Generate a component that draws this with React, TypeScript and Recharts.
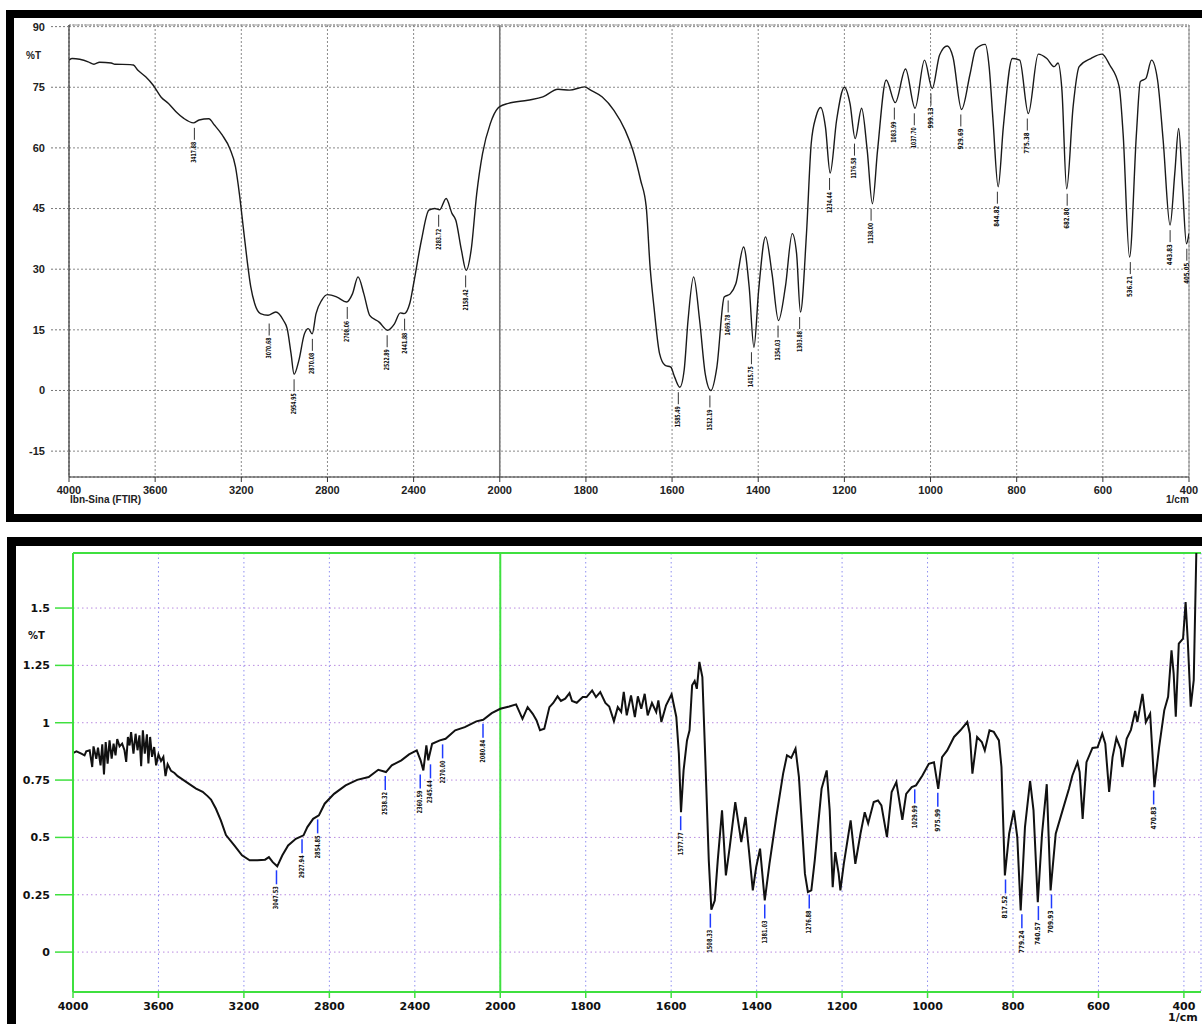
import React from 'react';
import {
  ComposedChart,
  Line,
  Scatter,
  XAxis,
  YAxis,
  CartesianGrid,
  ReferenceLine
} from 'recharts';

// Shimadzu style wavenumber axis: the range above 2000 1/cm is compressed 2:1
const toDisp = (wn: number) => (wn > 2000 ? 2000 + (wn - 2000) / 2 : wn);
const fromDisp = (d: number) => Math.round(d > 2000 ? 2000 + (d - 2000) * 2 : d);

const xTickLabels = [4000, 3600, 3200, 2800, 2400, 2000, 1800, 1600, 1400, 1200, 1000, 800, 600, 400];
const topYTicks = [-15, 0, 15, 30, 45, 60, 75, 90];
const botYTicks = [0, 0.25, 0.5, 0.75, 1, 1.25, 1.5];

// ---- upper spectrum (Ibn-Sina FTIR) ----
const topWn = [
  4000, 3985, 3911, 3884, 3858, 3804, 3787, 3716, 3701, 3680, 3644, 3609, 3573, 3538, 3502, 3467,
  3422, 3396, 3351, 3324, 3289, 3253, 3227, 3209, 3191, 3173, 3156, 3138, 3111, 3076, 3040, 3004,
  2987, 2969, 2955, 2933, 2907, 2889, 2871, 2853, 2827, 2800, 2756, 2711, 2684, 2658, 2631, 2604,
  2560, 2521, 2489, 2462, 2444, 2418, 2400, 2364, 2329, 2302, 2279, 2249, 2222, 2204, 2178, 2156,
  2133, 2107, 2080, 2044, 2009, 2000, 1980, 1935, 1900, 1865, 1838, 1803, 1789, 1762, 1735, 1709,
  1691, 1673, 1660, 1651, 1642, 1629, 1616, 1603, 1594, 1582, 1572, 1563, 1550, 1536, 1523, 1510,
  1496, 1479, 1465, 1452, 1434, 1421, 1410, 1399, 1383, 1368, 1353, 1337, 1321, 1311, 1302, 1288,
  1277, 1266, 1255, 1244, 1233, 1218, 1200, 1187, 1175, 1160, 1147, 1135, 1123, 1103, 1082, 1058,
  1036, 1014, 996, 979, 961, 948, 928, 908, 895, 873, 864, 855, 843, 831, 810, 793,
  773, 750, 730, 713, 704, 695, 684, 669, 655, 628, 602, 584, 562, 553, 538, 522,
  513, 500, 487, 473, 460, 444, 433, 424, 415, 406, 400
];
const topT = [
  81.7, 82.1, 81.3, 80.7, 81.2, 81.0, 80.7, 80.6, 80.5, 79.2, 77.6, 75.5, 72.6, 71.0, 68.9, 67.3,
  66.2, 66.9, 67.2, 65.6, 63.2, 59.8, 55.3, 48.7, 40.4, 32.2, 25.6, 21.5, 19.0, 18.6, 19.4, 17.3,
  15.3, 9.1, 4.0, 7.4, 14.0, 15.3, 14.0, 19.0, 22.3, 23.7, 23.1, 21.9, 23.9, 28.1, 23.9, 18.6,
  16.9, 14.9, 16.5, 19.2, 19.0, 21.5, 26.4, 37.1, 44.6, 45.0, 44.7, 47.5, 43.8, 42.1, 34.7, 29.7,
  34.7, 48.7, 58.6, 66.0, 69.8, 70.2, 71.0, 71.8, 72.6, 74.5, 74.3, 75.1, 74.3, 72.6, 69.3, 64.4,
  59.4, 52.0, 45.4, 30.5, 20.6, 9.1, 6.2, 5.8, 3.3, 0.8, 5.0, 17.3, 28.1, 17.3, 4.1, 0.0,
  5.8, 23.1, 23.9, 26.4, 35.5, 25.6, 10.7, 24.8, 38.0, 28.9, 17.3, 25.6, 38.8, 33.9, 19.4, 38.8,
  61.1, 67.7, 70.0, 65.2, 53.8, 66.9, 75.0, 71.0, 62.3, 69.8, 59.4, 46.2, 59.4, 76.8, 71.2, 79.5,
  69.8, 81.7, 74.7, 83.0, 85.2, 82.5, 69.5, 78.4, 84.4, 85.6, 80.1, 66.9, 50.4, 65.2, 82.1, 81.7,
  68.5, 83.2, 82.1, 80.1, 81.0, 74.3, 49.9, 70.2, 80.1, 82.1, 83.2, 80.5, 75.1, 63.6, 33.0, 63.6,
  76.4, 77.2, 81.7, 76.8, 61.9, 40.9, 53.7, 64.8, 50.4, 36.3, 38.8
];
const topPeakWn = [
  3417.88, 3070.68, 2954.95, 2870.08, 2708.06, 2522.89, 2441.88, 2283.72, 2158.42, 1585.49, 1512.19,
  1469.78, 1415.75, 1354.03, 1303.88, 1234.44, 1176.58, 1138.0, 1083.99, 1037.7, 999.13, 929.69,
  844.82, 775.38, 682.8, 536.21, 443.83, 405.05
];
const topPeakT = [
  66.2, 17.8, 4.0, 14.0, 21.9, 14.9, 19.0, 44.7, 29.7, 0.8, 0.0,
  23.5, 10.7, 17.3, 19.4, 53.8, 62.3, 46.2, 71.2, 69.8, 74.7, 69.5,
  50.4, 68.5, 49.9, 33.0, 40.9, 36.3
];

// ---- lower spectrum ----
const botWn = [
  4000, 3984, 3961, 3946, 3938, 3922, 3910, 3904, 3891, 3883, 3871, 3863, 3855, 3847, 3838, 3829,
  3819, 3810, 3801, 3793, 3782, 3770, 3759, 3751, 3743, 3735, 3728, 3717, 3707, 3698, 3689, 3681,
  3673, 3664, 3654, 3647, 3639, 3630, 3620, 3611, 3600, 3588, 3577, 3567, 3557, 3541, 3525, 3510,
  3486, 3455, 3424, 3393, 3370, 3354, 3331, 3308, 3284, 3245, 3209, 3173, 3137, 3101, 3083, 3065,
  3044, 3020, 2993, 2957, 2921, 2903, 2876, 2849, 2822, 2778, 2724, 2670, 2616, 2571, 2535, 2508,
  2463, 2427, 2391, 2373, 2360, 2346, 2337, 2319, 2283, 2256, 2211, 2166, 2112, 2080, 2040, 2000,
  1979, 1963, 1948, 1936, 1924, 1915, 1907, 1897, 1885, 1876, 1866, 1858, 1848, 1838, 1832, 1821,
  1807, 1798, 1785, 1776, 1766, 1754, 1745, 1734, 1725, 1717, 1711, 1704, 1694, 1685, 1678, 1670,
  1662, 1655, 1645, 1635, 1630, 1623, 1612, 1599, 1588, 1582, 1577, 1571, 1563, 1557, 1551, 1545,
  1540, 1534, 1527, 1520, 1512, 1506, 1498, 1491, 1481, 1472, 1463, 1450, 1436, 1426, 1418, 1409,
  1401, 1392, 1381, 1370, 1354, 1338, 1329, 1319, 1309, 1301, 1287, 1280, 1272, 1264, 1248, 1236,
  1229, 1222, 1216, 1208, 1204, 1196, 1180, 1169, 1157, 1147, 1139, 1126, 1116, 1108, 1095, 1084,
  1073, 1059, 1050, 1037, 1027, 1012, 997, 985, 975, 966, 954, 938, 923, 907, 901, 895,
  884, 873, 866, 855, 845, 833, 827, 819, 809, 798, 790, 782, 772, 760, 752, 742,
  732, 721, 712, 700, 684, 669, 661, 649, 644, 637, 628, 614, 602, 591, 584, 575,
  567, 558, 548, 544, 534, 524, 514, 509, 497, 489, 479, 469, 458, 446, 437, 429,
  424, 419, 412, 402, 396, 391, 384, 377, 371, 365
];
const botT = [
  0.868, 0.875, 0.865, 0.858, 0.875, 0.88, 0.807, 0.897, 0.843, 0.891, 0.814, 0.906, 0.775, 0.916, 0.822, 0.923,
  0.843, 0.909, 0.858, 0.929, 0.897, 0.909, 0.88, 0.829, 0.938, 0.901, 0.959, 0.865, 0.952, 0.88, 0.945, 0.81,
  0.967, 0.865, 0.949, 0.822, 0.938, 0.851, 0.894, 0.814, 0.862, 0.833, 0.851, 0.767, 0.819, 0.79, 0.781, 0.767,
  0.752, 0.732, 0.713, 0.699, 0.68, 0.665, 0.625, 0.574, 0.51, 0.465, 0.422, 0.4, 0.4, 0.403, 0.414, 0.392,
  0.374, 0.422, 0.465, 0.494, 0.509, 0.545, 0.581, 0.596, 0.647, 0.69, 0.727, 0.751, 0.763, 0.795, 0.785, 0.814,
  0.836, 0.862, 0.879, 0.836, 0.792, 0.901, 0.836, 0.908, 0.923, 0.93, 0.967, 0.981, 1.006, 1.013, 1.042, 1.061,
  1.071, 1.08, 1.017, 1.068, 1.039, 1.01, 0.967, 0.974, 1.068, 1.086, 1.115, 1.095, 1.105, 1.129, 1.095, 1.087,
  1.112, 1.112, 1.141, 1.112, 1.134, 1.086, 1.071, 1.007, 1.068, 1.047, 1.134, 1.032, 1.119, 1.025, 1.115, 1.061,
  1.126, 1.032, 1.086, 1.047, 1.097, 1.003, 1.076, 1.124, 1.025, 0.865, 0.61, 0.792, 0.923, 0.967, 1.163, 1.182,
  1.148, 1.265, 1.199, 0.836, 0.4, 0.185, 0.225, 0.4, 0.618, 0.334, 0.458, 0.654, 0.48, 0.589, 0.443, 0.269,
  0.371, 0.451, 0.225, 0.385, 0.589, 0.778, 0.858, 0.847, 0.887, 0.763, 0.342, 0.262, 0.269, 0.4, 0.712, 0.792,
  0.618, 0.283, 0.436, 0.342, 0.269, 0.385, 0.574, 0.385, 0.516, 0.61, 0.561, 0.654, 0.661, 0.64, 0.501, 0.698,
  0.741, 0.577, 0.69, 0.719, 0.727, 0.77, 0.821, 0.828, 0.712, 0.85, 0.879, 0.938, 0.967, 1.003, 0.952, 0.778,
  0.938, 0.916, 0.879, 0.967, 0.96, 0.923, 0.807, 0.334, 0.516, 0.618, 0.501, 0.182, 0.545, 0.746, 0.618, 0.218,
  0.516, 0.732, 0.269, 0.516, 0.618, 0.712, 0.77, 0.828, 0.785, 0.581, 0.828, 0.89, 0.893, 0.952, 0.909, 0.698,
  0.85, 0.933, 0.885, 0.807, 0.93, 0.969, 1.051, 1.003, 1.126, 1.003, 1.039, 0.719, 0.894, 1.054, 1.113, 1.316,
  1.214, 1.026, 1.345, 1.367, 1.526, 1.359, 1.07, 1.186, 1.736, 2.0
];
const botPeakWn = [
  3047.53, 2927.94, 2854.85, 2538.32, 2360.59, 2345.44, 2270.0, 2080.84, 1577.77, 1508.33, 1381.03,
  1276.88, 1029.99, 975.99, 817.52, 779.24, 740.57, 709.93, 470.83
];
const botPeakT = [
  0.374, 0.509, 0.596, 0.785, 0.792, 0.836, 0.923, 1.013, 0.61, 0.185, 0.225,
  0.269, 0.727, 0.712, 0.334, 0.182, 0.218, 0.269, 0.722
];

const topData = topWn.map((wn, i) => ({ x: toDisp(wn), t: topT[i] }));
const topPeaks = topPeakWn.map((wn, i) => ({ x: toDisp(wn), t: topPeakT[i], label: wn.toFixed(2) }));
const botData = botWn.map((wn, i) => ({ x: toDisp(wn), t: botT[i] }));
const botPeaks = botPeakWn.map((wn, i) => ({ x: toDisp(wn), t: botPeakT[i], label: wn.toFixed(2) }));

const majorX = xTickLabels.map(toDisp);
const minorX: number[] = [];
for (let d = 400; d <= 3000; d += 40) minorX.push(d);
const topMinorY: number[] = [];
for (let v = -21; v <= 90; v += 3) topMinorY.push(v);
const botMinorY: number[] = [];
for (let k = -3; k <= 34; k++) botMinorY.push(Math.round(k * 5) / 100);

const narrowFont = '"Liberation Sans Narrow", "DejaVu Sans Condensed", "Liberation Sans", sans-serif';

// the two close CO2 labels are pushed apart on the print
const labelNudge: Record<string, number> = { '2360.59': -3, '2345.44': 4 };

const makePeakShape = (lineColor: string, lineWidth: number, gap: number, len: number, textLen: number) =>
  (props: any) => {
    const { cx, cy, payload } = props;
    if (cx == null || cy == null) return <g />;
    const x = cx + (labelNudge[payload.label] || 0);
    const y0 = cy + gap;
    const y1 = y0 + len;
    const ty = y1 + 2;
    return (
      <g>
        <line x1={x} y1={y0} x2={x} y2={y1} stroke={lineColor} strokeWidth={lineWidth} />
        <text
          x={x}
          y={ty}
          transform={`rotate(-90 ${x} ${ty})`}
          textAnchor="end"
          dominantBaseline="central"
          fontSize={7}
          fontWeight={700}
          fontFamily={narrowFont}
          fill="#111"
          textLength={textLen}
          lengthAdjust="spacingAndGlyphs"
        >
          {payload.label}
        </text>
      </g>
    );
  };

const TopPeak = makePeakShape('#333', 1, 5, 12, 21);
const BotPeak = makePeakShape('#1f3bff', 1.5, 4, 14, 23);

const abs = (left: number, top: number): React.CSSProperties => ({ position: 'absolute', left, top });

export default function App() {
  const topTick = { fontSize: 11, fontWeight: 700, fill: '#222', fontFamily: '"Liberation Sans", Arial, sans-serif' };
  const botTick = { fontSize: 11, fontWeight: 900, fill: '#111', fontFamily: '"DejaVu Sans", sans-serif' };
  const green = '#3fe03f';

  return (
    <div style={{ position: 'absolute', left: 0, top: 0, width: 1202, height: 1024, overflow: 'hidden', background: '#fff' }}>
      {/* black frames of the two scanned sheets */}
      <div style={{ ...abs(6, 10), width: 1220, height: 512, border: '8px solid #000', boxSizing: 'border-box' }} />
      <div style={{ ...abs(7, 537), width: 1220, height: 600, border: '9px solid #000', boxSizing: 'border-box' }} />

      {/* upper spectrum */}
      <div style={abs(0, 0)}>
        <ComposedChart width={1202} height={522} data={topData} margin={{ top: 25, right: 13, bottom: 15, left: 9 }}>
          <CartesianGrid stroke="#8a8a8a" strokeDasharray="2 2" />
          <XAxis
            dataKey="x"
            type="number"
            domain={[400, 3000]}
            reversed
            allowDataOverflow
            ticks={majorX}
            interval={0}
            tickFormatter={(d: number) => String(fromDisp(d))}
            height={30}
            tickSize={5}
            tickMargin={4}
            tick={topTick}
            stroke="#333"
          />
          <XAxis
            xAxisId="minor"
            type="number"
            domain={[400, 3000]}
            reversed
            allowDataOverflow
            ticks={minorX}
            interval={0}
            tickFormatter={() => ''}
            height={0}
            tickSize={5}
            axisLine={false}
            tickLine={{ stroke: '#333' }}
          />
          <YAxis
            dataKey="t"
            type="number"
            domain={[-21.4, 90.4]}
            allowDataOverflow
            ticks={topYTicks}
            interval={0}
            width={60}
            tickSize={18}
            tickMargin={6}
            tick={topTick}
            axisLine={{ stroke: '#333', strokeWidth: 1.2 }}
            tickLine={{ stroke: '#777', strokeDasharray: '2 2' }}
          />
          <YAxis
            yAxisId="minor"
            type="number"
            domain={[-21.4, 90.4]}
            allowDataOverflow
            ticks={topMinorY}
            interval={0}
            width={0}
            tickSize={8}
            tickFormatter={() => ''}
            axisLine={false}
            tickLine={{ stroke: '#444' }}
          />
          <ReferenceLine x={2000} stroke="#777" strokeWidth={1.6} />
          <ReferenceLine y={90.4} stroke="#999" strokeDasharray="2 1" />
          <ReferenceLine x={400} stroke="#888" />
          <Line
            dataKey="t"
            type="monotone"
            stroke="#1a1a1a"
            strokeWidth={1.4}
            dot={false}
            isAnimationActive={false}
          />
          <Scatter data={topPeaks} dataKey="t" shape={TopPeak} isAnimationActive={false} />
        </ComposedChart>
      </div>

      {/* lower spectrum */}
      <div style={abs(0, 530)}>
        <ComposedChart width={1202} height={494} data={botData} margin={{ top: 23, right: 1, bottom: 2, left: 13 }}>
          <CartesianGrid vertical={false} stroke="#b98be0" strokeDasharray="1.5 3" />
          <CartesianGrid horizontal={false} stroke="#8f8ff0" strokeDasharray="1.5 3" />
          <XAxis
            dataKey="x"
            type="number"
            domain={[360, 3000]}
            reversed
            allowDataOverflow
            ticks={majorX}
            interval={0}
            tickFormatter={(d: number) => String(fromDisp(d))}
            height={30}
            tickSize={6}
            tickMargin={4}
            tick={botTick}
            axisLine={{ stroke: green, strokeWidth: 2 }}
            tickLine={{ stroke: green, strokeWidth: 1.5 }}
          />
          <XAxis
            xAxisId="minor"
            type="number"
            domain={[360, 3000]}
            reversed
            allowDataOverflow
            ticks={minorX}
            interval={0}
            tickFormatter={() => ''}
            height={0}
            tickSize={5}
            axisLine={false}
            tickLine={{ stroke: green, strokeWidth: 1.5 }}
          />
          <YAxis
            dataKey="t"
            type="number"
            domain={[-0.174, 1.74]}
            allowDataOverflow
            ticks={botYTicks}
            interval={0}
            width={60}
            tickSize={18}
            tickMargin={5}
            tick={botTick}
            axisLine={{ stroke: green, strokeWidth: 2 }}
            tickLine={{ stroke: green, strokeWidth: 1.5 }}
          />
          <YAxis
            yAxisId="minor"
            type="number"
            domain={[-0.174, 1.74]}
            allowDataOverflow
            ticks={botMinorY}
            interval={0}
            width={0}
            tickSize={9}
            tickFormatter={() => ''}
            axisLine={false}
            tickLine={{ stroke: green, strokeWidth: 1.5 }}
          />
          <ReferenceLine x={2000} stroke={green} strokeWidth={2} />
          <ReferenceLine y={1.74} stroke={green} strokeWidth={2} />
          <Line
            dataKey="t"
            type="linear"
            stroke="#111"
            strokeWidth={2}
            dot={false}
            isAnimationActive={false}
          />
          <Scatter data={botPeaks} dataKey="t" shape={BotPeak} isAnimationActive={false} />
        </ComposedChart>
      </div>

      {/* free text of the prints */}
      <div style={{ ...abs(26, 50), fontFamily: topTick.fontFamily, fontWeight: 700, fontSize: 10, color: '#222' }}>%T</div>
      <div style={{ ...abs(70, 494), fontFamily: topTick.fontFamily, fontWeight: 700, fontSize: 10, color: '#222' }}>
        Ibn-Sina (FTIR)
      </div>
      <div style={{ ...abs(1166, 494), fontFamily: topTick.fontFamily, fontWeight: 700, fontSize: 10, color: '#222' }}>1/cm</div>
      <div style={{ ...abs(28, 630), fontFamily: botTick.fontFamily, fontWeight: 900, fontSize: 10, color: '#111' }}>%T</div>
      <div style={{ ...abs(1168, 1011), fontFamily: botTick.fontFamily, fontWeight: 900, fontSize: 11, color: '#111' }}>1/cm</div>
    </div>
  );
}
